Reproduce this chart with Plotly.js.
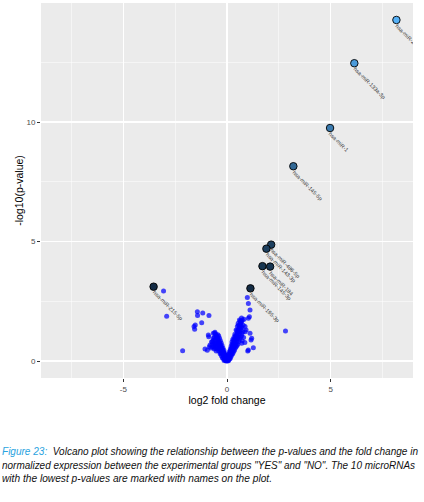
<!DOCTYPE html>
<html>
<head>
<meta charset="utf-8">
<script src="https://cdn.plot.ly/plotly-3.0.1.min.js"></script>
<style>
  html, body { margin: 0; padding: 0; background: #fff; width: 424px; height: 502px; overflow: hidden; }
  #wrap { position: relative; width: 424px; height: 502px; }
  #plot { position: absolute; left: 0; top: 0; width: 424px; height: 410px; }
  #clipR { position: absolute; left: 413px; top: 0; width: 11px; height: 380px; background: #fff; }
  #caption { position: absolute; left: 2px; top: 445px; font-family: "Liberation Sans", Arial, sans-serif; font-style: italic; font-size: 10.5px; line-height: 13.5px; color: #111; white-space: nowrap; }
  #caption .line { display: block; width: max-content; transform-origin: 0 0; }
  #caption .fig { color: #2aa3e0; }
</style>
</head>
<body>
<div id="wrap">
  <div id="plot"></div>
  <div id="clipR"></div>
  <div id="caption">
    <span class="line" data-w="416"><span class="fig">Figure 23:</span>&nbsp; Volcano plot showing the relationship between the p-values and the fold change in</span>
    <span class="line" data-w="413">normalized expression between the experimental groups "YES" and "NO". The 10 microRNAs</span>
    <span class="line" data-w="270">with the lowest p-values are marked with names on the plot.</span>
  </div>
</div>
<script>
// Unlabelled microRNAs: log2 fold change and -log10(p-value)
const blueX = [
  -1.43,-1.17,-1.42,-0.87,-1.22,-1.53,-1.59,-1.56,-2.14,-0.88,-0.59,-0.53,-0.74,-0.82,-1.06,-0.58,-3.06,-2.91,
  -0.65,-0.70,-0.95,-0.60,
  -0.02,-0.04,-0.06,-0.08,-0.10,-0.11,-0.13,-0.15,-0.16,-0.18,-0.20,-0.21,-0.23,-0.25,-0.26,-0.28,-0.30,-0.31,
  -0.33,-0.35,-0.36,-0.38,-0.40,-0.42,-0.43,-0.45,-0.47,-0.48,-0.50,-0.52,-0.55,-0.57,-0.62,-0.66,-0.70,-0.64,
  -0.55,-0.48,-0.40,-0.33,-0.27,-0.19,-0.12,-0.06,-0.78,-0.52,
  -0.05,-0.08,-0.12,-0.15,-0.20,-0.24,-0.28,-0.32,-0.36,-0.40,-0.44,-0.58,-0.66,-0.90,-0.14,-0.22,-0.30,-0.38,
  -0.46,-0.58,-0.72,-0.62,-0.85,-0.05,0.00,0.00,-0.09,
  0.02,0.03,0.05,0.06,0.07,0.09,0.10,0.11,0.13,0.14,0.15,0.17,0.18,0.19,0.21,0.22,0.23,0.25,0.26,0.27,
  0.29,0.30,0.31,0.33,0.34,0.35,0.37,0.38,0.39,0.41,0.42,0.43,0.45,0.46,0.47,0.49,0.50,0.51,0.53,0.54,
  0.55,0.57,0.58,0.59,0.61,0.62,0.63,0.65,0.67,0.68,0.70,0.72,0.74,0.78,0.32,0.40,0.48,0.56,0.64,0.24,
  0.44,0.36,0.28,0.20,0.12,0.52,0.60,0.70,0.76,0.80,0.86,0.73,
  0.04,0.08,0.12,0.16,0.20,0.24,0.28,0.34,0.38,0.44,0.50,0.54,0.60,0.70,0.16,0.24,0.32,0.40,0.48,0.56,
  0.64,0.72,0.66,0.58,0.71,1.03,0.87,1.03,0.04,0.08,
  0.82,0.66,0.87,1.11,1.16,1.27,1.00,1.19,1.08,1.11,1.03,0.98,2.82,0.92
];
const blueY = [
  2.06,2.01,1.90,1.90,1.60,1.51,1.44,1.33,0.43,1.02,1.16,1.02,0.81,0.67,0.50,0.53,2.93,1.87,
  0.95,0.60,0.45,0.75,
  0.04,0.10,0.13,0.18,0.22,0.12,0.27,0.32,0.20,0.37,0.41,0.28,0.46,0.52,0.36,0.57,0.62,0.45,
  0.67,0.73,0.52,0.78,0.83,0.62,0.89,0.94,0.72,1.00,1.06,0.80,1.12,0.90,0.98,0.86,0.70,0.60,
  0.62,0.50,0.42,0.30,0.22,0.12,0.06,0.02,0.55,0.42,
  0.15,0.25,0.35,0.45,0.55,0.65,0.75,0.85,0.95,1.05,1.10,1.20,1.16,1.09,0.02,0.14,0.35,0.55,
  0.60,0.72,0.80,0.50,0.60,0.00,0.01,0.06,0.05,
  0.04,0.09,0.12,0.05,0.17,0.21,0.10,0.26,0.30,0.18,0.35,0.39,0.26,0.44,0.48,0.34,0.53,0.57,0.42,0.62,
  0.66,0.50,0.71,0.75,0.58,0.80,0.85,0.66,0.90,0.94,0.74,0.99,1.04,0.82,1.09,1.14,0.92,1.19,1.24,1.00,
  1.29,1.34,1.10,1.39,1.44,1.20,1.49,1.54,1.30,1.60,1.66,1.40,1.72,1.50,0.88,1.05,1.28,1.50,1.68,0.70,
  0.60,0.45,0.32,0.20,0.08,0.70,0.90,1.05,1.22,0.98,0.78,0.85,
  0.16,0.28,0.40,0.50,0.62,0.80,0.90,1.00,1.12,1.30,1.45,1.58,1.72,1.80,0.12,0.28,0.40,0.55,0.65,0.82,
  1.00,1.15,1.40,1.25,0.74,0.46,1.23,1.79,0.00,0.02,
  1.75,1.65,1.44,1.16,0.88,0.56,0.42,0.95,1.85,2.13,2.41,2.66,1.26,1.30
];

// The 10 microRNAs with the lowest p-values
const labNames = ["hsa-miR-206","hsa-miR-133a-3p","hsa-miR-1","hsa-miR-145-5p","hsa-miR-486-5p",
                  "hsa-miR-143-3p","hsa-miR-184","hsa-miR-145-3p","hsa-miR-195-3p","hsa-miR-215-5p"];
const labX = [8.17, 6.14, 4.97, 3.20, 2.13, 1.90, 2.08, 1.71, 1.13, -3.54];
const labY = [14.27, 12.46, 9.75, 8.15, 4.87, 4.70, 3.95, 3.97, 3.04, 3.11];

// Axis ticks
const xTicks = [-5, 0, 5];
const yTicks = [0, 5, 10];

const traces = [
  {
    type: 'scatter', mode: 'markers', x: blueX, y: blueY,
    marker: { size: 5, color: 'rgba(0,0,255,0.72)', line: { width: 0 } },
    hoverinfo: 'skip', showlegend: false
  },
  {
    type: 'scatter', mode: 'markers', x: labX, y: labY, text: labNames,
    marker: { size: 7.5, color: labY, cmin: 3.0, cmax: 14.27,
              colorscale: [[0, '#132B43'], [1, '#56B1F7']], showscale: false,
              line: { width: 0.9, color: '#000' } },
    showlegend: false
  }
];

const annotations = labNames.map((n, i) => ({
  x: labX[i], y: labY[i], xref: 'x', yref: 'y', text: n, showarrow: false,
  textangle: 45, xanchor: 'left', yanchor: 'top', xshift: -5, yshift: 0,
  font: { family: 'Liberation Sans, Arial, sans-serif', size: 5.5, color: '#333' }
}));

const axisCommon = {
  showgrid: true, gridcolor: '#ffffff', gridwidth: 1.1, zeroline: false,
  ticks: 'outside', ticklen: 3, tickwidth: 1, tickcolor: '#333',
  tickfont: { family: 'Liberation Sans, Arial, sans-serif', size: 8, color: '#4d4d4d' },
  showline: false, tickmode: 'array',
  minor: { dtick: 2.5, showgrid: true, gridcolor: '#ffffff', gridwidth: 0.5, ticks: '' }
};

const layout = {
  width: 424, height: 410,
  margin: { l: 41, r: 11, t: 3, b: 32, pad: 0 },
  paper_bgcolor: '#ffffff', plot_bgcolor: '#ebebeb',
  xaxis: Object.assign({}, axisCommon, {
    range: [-8.97, 8.97], tickvals: xTicks, ticktext: xTicks.map(String),
    title: { text: 'log2 fold change', standoff: 2,
             font: { family: 'Liberation Sans, Arial, sans-serif', size: 10.5, color: '#000' } }
  }),
  yaxis: Object.assign({}, axisCommon, {
    range: [-0.71, 14.98], tickvals: yTicks, ticktext: yTicks.map(String),
    title: { text: '-log10(p-value)', standoff: 0,
             font: { family: 'Liberation Sans, Arial, sans-serif', size: 10.5, color: '#000' } }
  }),
  annotations: annotations,
  font: { family: 'Liberation Sans, Arial, sans-serif' }
};

Plotly.newPlot('plot', traces, layout, { displayModeBar: false, staticPlot: true });

// Fit each caption line to the width it has in the reference
document.querySelectorAll('#caption .line').forEach(el => {
  const target = parseFloat(el.dataset.w);
  const w = el.getBoundingClientRect().width;
  if (w > 0) el.style.transform = 'scaleX(' + (target / w) + ')';
});
</script>
</body>
</html>
